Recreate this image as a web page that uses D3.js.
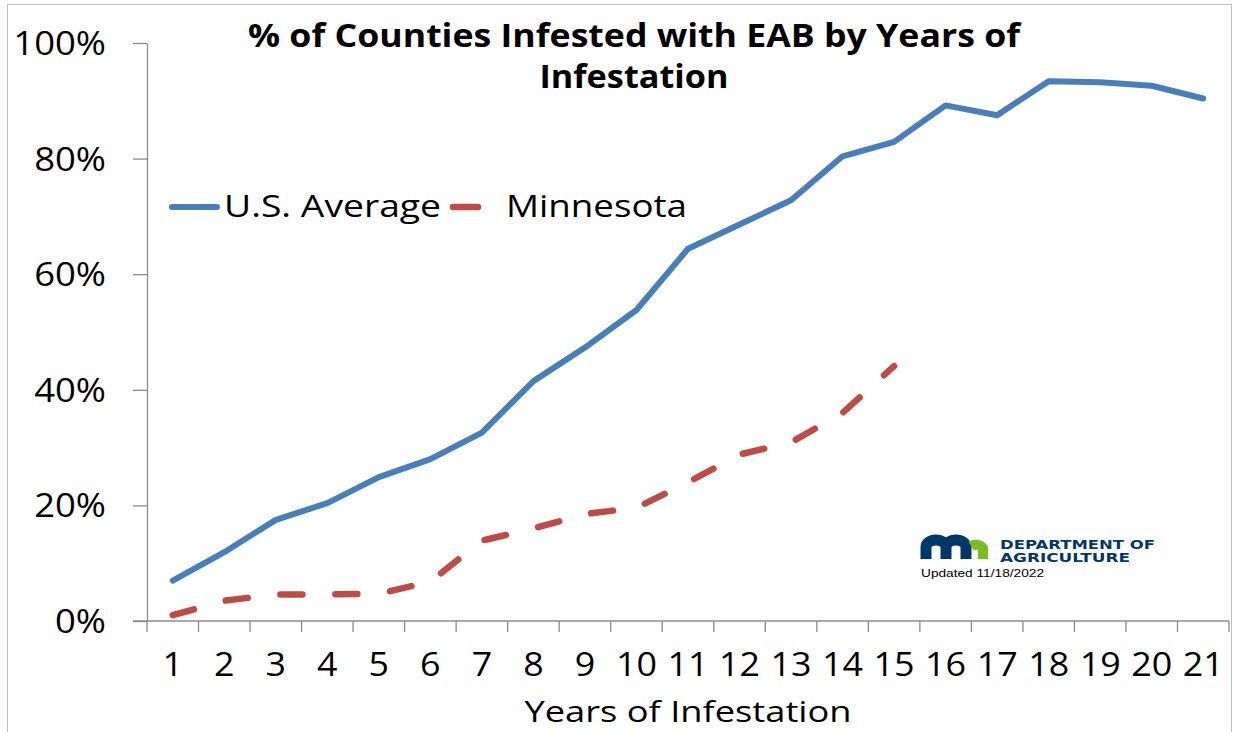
<!DOCTYPE html>
<html><head><meta charset="utf-8">
<script src="https://cdn.jsdelivr.net/npm/d3@7"></script>
<style>body{margin:0;background:#fff}svg{display:block}</style>
</head><body>
<svg id="chart" width="1233" height="732"></svg>
<script>
// ---- data ----
const years = [1,2,3,4,5,6,7,8,9,10,11,12,13,14,15,16,17,18,19,20,21];
const usAverage = [7.0,11.9,17.5,20.4,24.9,28.0,32.6,41.5,47.3,53.8,64.4,68.6,72.8,80.4,82.9,89.2,87.5,93.4,93.2,92.6,90.4];
const minnesota = [1.0,3.5,4.6,4.6,4.7,6.8,13.9,16.0,18.5,19.6,24.0,28.8,30.9,36.0,44.1];
const yTicks = [0,20,40,60,80,100];
const seriesNames = ["U.S. Average","Minnesota"];
const titleLines = ["% of Counties Infested with EAB by Years of","Infestation"];
const xTitle = "Years of Infestation";
const logoLines = ["DEPARTMENT OF","AGRICULTURE"];
const updatedText = "Updated 11/18/2022";

// ---- drawing ----
const svg = d3.select("#chart");
const FONT = "'Open Sans', 'Liberation Sans', sans-serif";
const BLUE = "#4A7EBB", RED = "#BE4B48", AXIS = "#8C8C8C";

function fit(sel, width){ sel.attr("textLength", width).attr("lengthAdjust","spacingAndGlyphs"); }
function stretch(sel, f){ sel.each(function(){ const w=this.getComputedTextLength(); d3.select(this).attr("textLength", w*f).attr("lengthAdjust","spacingAndGlyphs"); }); }

// outer frame
svg.append("rect").attr("x",7.5).attr("y",4.5).attr("width",1224).attr("height",760)
  .attr("fill","none").attr("stroke","#BFBFBF").attr("stroke-width",1);

const x = d3.scaleBand().domain(years).range([147,1229]);
const y = d3.scaleLinear().domain([0,100]).range([621,43]);
const cx = d => x(d) + x.bandwidth()/2;

// y axis
const yAxis = svg.append("g").attr("transform","translate(147,0)")
  .call(d3.axisLeft(y).tickValues(yTicks).tickSize(14).tickSizeOuter(0).tickPadding(27).tickFormat(d=>d+"%"));
yAxis.select(".domain").attr("stroke",AXIS).attr("stroke-width",1.3);
yAxis.selectAll(".tick line").attr("stroke",AXIS).attr("stroke-width",1.3);
yAxis.selectAll(".tick text").attr("font-family",FONT).attr("font-size",32).attr("fill","#000")
  .attr("dy","0.36em").call(stretch,1.14);

// x axis line and boundary ticks
const xg = svg.append("g");
xg.append("line").attr("x1",133).attr("x2",x.range()[1]).attr("y1",y(0)).attr("y2",y(0))
  .attr("stroke",AXIS).attr("stroke-width",1.3);
xg.selectAll("line.tk").data(years.map(d=>x(d)).concat([x.range()[1]])).join("line").attr("class","tk")
  .attr("x1",d=>d).attr("x2",d=>d).attr("y1",y(0)).attr("y2",y(0)+11)
  .attr("stroke",AXIS).attr("stroke-width",1.3);
xg.selectAll("text").data(years).join("text")
  .attr("x",d=>cx(d)).attr("y",676).attr("text-anchor","middle")
  .attr("font-family",FONT).attr("font-size",32).attr("fill","#000").text(d=>d).call(stretch,1.12);

// axis title
svg.append("text").attr("x",688).attr("y",722).attr("text-anchor","middle")
  .attr("font-family",FONT).attr("font-size",29).attr("fill","#000").text(xTitle).call(fit,327);

// title
svg.selectAll("text.title").data(titleLines).join("text").attr("class","title")
  .attr("x",634).attr("y",(d,i)=>[47,88][i]).attr("text-anchor","middle")
  .attr("font-family",FONT).attr("font-weight","bold").attr("font-size",32).attr("fill","#000")
  .text(d=>d).each(function(d,i){ d3.select(this).call(fit,[772,189][i]); });

// lines
const line = d3.line().x((d,i)=>cx(years[i])).y(d=>y(d)).curve(d3.curveLinear);
svg.append("path").datum(usAverage).attr("d",line).attr("fill","none")
  .attr("stroke",BLUE).attr("stroke-width",6).attr("stroke-linejoin","round").attr("stroke-linecap","round");
svg.append("path").datum(minnesota).attr("d",line).attr("fill","none")
  .attr("stroke",RED).attr("stroke-width",6.5).attr("stroke-linejoin","round").attr("stroke-linecap","round")
  .attr("stroke-dasharray","22,33");

// legend
const lg = svg.append("g");
lg.append("line").attr("x1",172).attr("x2",217).attr("y1",207).attr("y2",207)
  .attr("stroke",BLUE).attr("stroke-width",6).attr("stroke-linecap","round");
lg.append("text").attr("x",224).attr("y",217).attr("font-family",FONT).attr("font-size",31)
  .attr("fill","#000").text(seriesNames[0]).call(fit,217);
lg.append("line").attr("x1",453).attr("x2",478).attr("y1",207).attr("y2",207)
  .attr("stroke",RED).attr("stroke-width",6.5).attr("stroke-linecap","round");
lg.append("text").attr("x",506).attr("y",217).attr("font-family",FONT).attr("font-size",31)
  .attr("fill","#000").text(seriesNames[1]).call(fit,181);

// logo
const logo = svg.append("g");
const NAVY = "#003865", GREEN = "#78BE21";
logo.append("path").attr("d","M926,559 V547 A10,7 0 0 1 946,547 V559 M946,547 A10,7 0 0 1 966,547 V559")
  .attr("fill","none").attr("stroke",NAVY).attr("stroke-width",11);
logo.append("path").attr("d","M971,546 A8,6 0 0 1 983,548 V559")
  .attr("fill","none").attr("stroke",GREEN).attr("stroke-width",10);
logo.selectAll("text.mda").data(logoLines).join("text").attr("class","mda")
  .attr("x",1000).attr("y",(d,i)=>[548.5,562][i]).attr("font-family","'DejaVu Sans', sans-serif")
  .attr("font-weight","bold").attr("font-size",12).attr("fill",NAVY)
  .text(d=>d).each(function(d,i){ d3.select(this).call(fit,[155,130][i]); });
logo.append("text").attr("x",921).attr("y",576.5).attr("font-family","'Liberation Sans', sans-serif")
  .attr("font-size",11).attr("fill","#000").text(updatedText).call(fit,123);
</script>
</body></html>
